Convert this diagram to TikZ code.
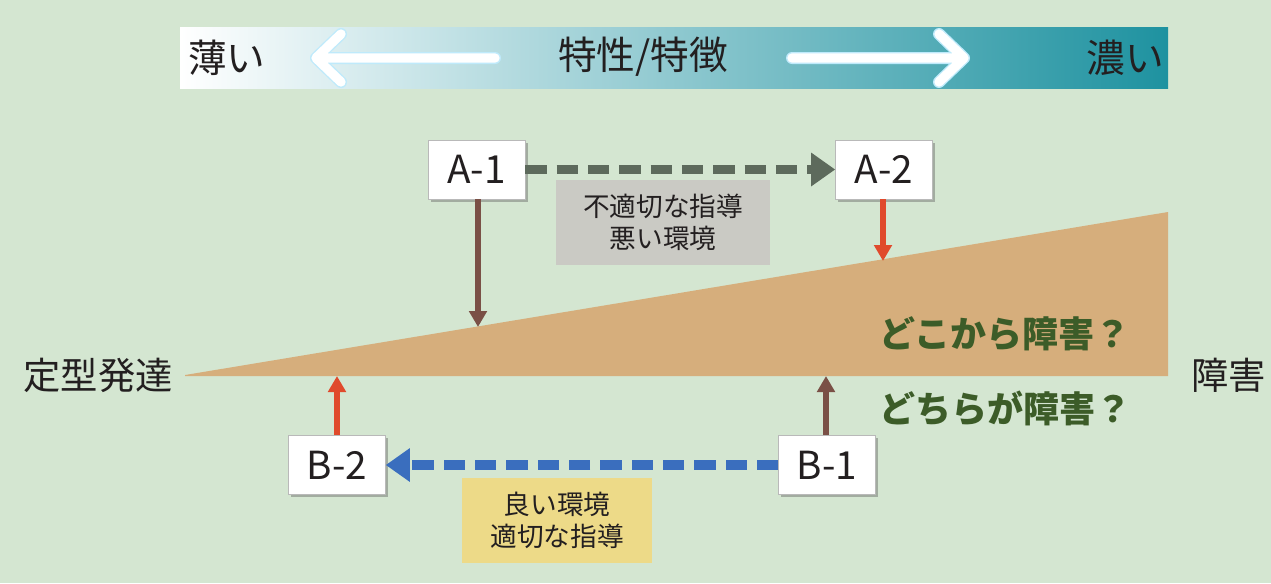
\documentclass[tikz,border=0pt]{standalone}
\usepackage{fontspec}
\setmainfont{Noto Sans CJK JP}
\usetikzlibrary{arrows.meta,shadows}
\definecolor{bgc}{RGB}{212,230,209}
\definecolor{tealr}{RGB}{30,146,160}
\definecolor{tan}{RGB}{214,174,124}
\definecolor{brownar}{RGB}{122,80,70}
\definecolor{redar}{RGB}{224,74,44}
\definecolor{grayar}{RGB}{93,106,92}
\definecolor{bluear}{RGB}{58,110,190}
\definecolor{grayfill}{RGB}{202,202,196}
\definecolor{yellowfill}{RGB}{237,218,136}
\definecolor{txt}{RGB}{35,31,32}
\definecolor{dkgreen}{RGB}{60,92,40}
\begin{document}
\begin{tikzpicture}[x=0.75pt,y=-0.75pt,
  lab/.style={text=txt,font=\fontsize{29}{32}\selectfont,inner sep=0pt},
  boxnode/.style={draw=gray!55,fill=white,minimum width=72.75pt,minimum height=44.25pt,inner sep=0pt,
     text=txt,font=\fontsize{29}{32}\selectfont,
     drop shadow={shadow xshift=2pt,shadow yshift=-2pt,opacity=0.45,fill=black!60}},
  notebox/.style={minimum width=160pt,minimum height=64pt,inner sep=0pt,align=center,
     text=txt,font=\fontsize{20}{24}\selectfont},
  q/.style={text=dkgreen,font=\bfseries\fontsize{27}{30}\selectfont,inner sep=0pt,anchor=west},
  solidar/.style={line width=4pt,-{Triangle[length=12pt,width=13pt]}},
  dashar/.style={line width=7.2pt,dash pattern=on 16pt off 7.5pt,-{Triangle[length=18pt,width=24pt]}},
  whitear/.style={line width=7pt,white,line cap=round,line join=round},
  whitearout/.style={line width=9pt,cyan!25!white,line cap=round,line join=round}]
\fill[bgc] (0,0) rectangle (1271,583);
\useasboundingbox (0,0) rectangle (1271,583);
% top gradient bar
\shade[left color=white,right color=tealr] (180,27) rectangle (1168,88);
\draw[whitearout] (495,58) -- (318,58) (341,34) -- (316,58) -- (341,82);
\draw[whitear] (495,58) -- (318,58) (341,34) -- (316,58) -- (341,82);
\draw[whitearout] (792,58) -- (962,58) (939,34) -- (964,58) -- (939,82);
\draw[whitear] (792,58) -- (962,58) (939,34) -- (964,58) -- (939,82);
\node[lab,anchor=west] (thin) at (188,58) {薄い};
\node[lab] (trait) at (643,57) {特性/特徴};
\node[lab,anchor=east] (thick) at (1164,58) {濃い};
% triangle
\coordinate (tl) at (185,375);
\coordinate (tr) at (1168,212);
\coordinate (br) at (1168,376);
\fill[tan] (tl) -- (tr) -- (br) -- (185,376) -- cycle;
\coordinate (pA1) at (478,327);
\coordinate (pA2) at (883,261);
\coordinate (pB2) at (337,376);
\coordinate (pB1) at (826,376);
% labels on sides
\node[lab,anchor=east,font=\fontsize{28}{30}\selectfont] (typ) at (173,375) {定型発達};
\node[lab,anchor=west,font=\fontsize{28}{30}\selectfont] (dis) at (1191,375) {障害};
\node[q] (q1) at (879,334) {どこから障害？};
\node[q] (q2) at (879,408) {どちらが障害？};
% note boxes
\node[notebox,fill=grayfill] (n1) at (663,222.5) {不適切な指導\\悪い環境};
\node[notebox,fill=yellowfill,minimum width=142pt] (n2) at (557,520.5) {良い環境\\適切な指導};
% boxes
\node[boxnode] (A1) at (476.5,169.5) {A-1};
\node[boxnode] (A2) at (884,169.5) {A-2};
\node[boxnode] (B2) at (337,465) {B-2};
\node[boxnode] (B1) at (827,465) {B-1};
% connectors
\draw[dashar,grayar] (A1.east) -- (A2.west);
\draw[dashar,bluear] (B1.west) -- (B2.east);
\draw[solidar,brownar] (A1.south -| pA1) -- (pA1);
\draw[solidar,redar] (A2.south -| pA2) -- (pA2);
\draw[solidar,redar] (B2.north -| pB2) -- (pB2);
\draw[solidar,brownar] (B1.north -| pB1) -- (pB1);
\end{tikzpicture}
\end{document}
